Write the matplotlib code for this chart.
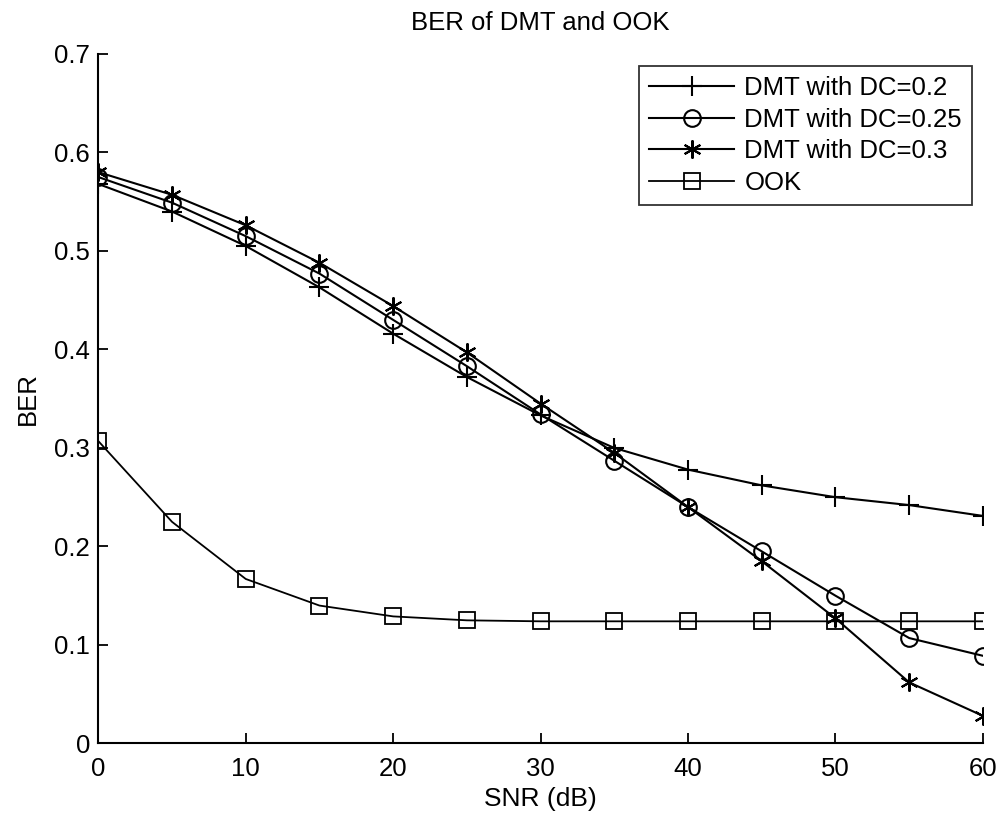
import numpy as np
import matplotlib
matplotlib.use('Agg')
import matplotlib.pyplot as plt

plt.rcParams['font.family'] = ['Liberation Sans', 'DejaVu Sans']

# SNR points (dB)
snr = [0, 5, 10, 15, 20, 25, 30, 35, 40, 45, 50, 55, 60]

# BER values
ber_dc02 = [0.568, 0.540, 0.505, 0.463, 0.416, 0.372, 0.333, 0.300, 0.278, 0.262, 0.250, 0.242, 0.231]
ber_dc025 = [0.575, 0.549, 0.515, 0.477, 0.430, 0.383, 0.334, 0.287, 0.240, 0.195, 0.150, 0.107, 0.089]
ber_dc03 = [0.580, 0.557, 0.526, 0.488, 0.444, 0.397, 0.345, 0.295, 0.240, 0.185, 0.127, 0.062, 0.028]
ber_ook = [0.307, 0.225, 0.167, 0.140, 0.129, 0.125, 0.124, 0.124, 0.124, 0.124, 0.124, 0.124, 0.124]

labels = ['DMT with DC=0.2', 'DMT with DC=0.25', 'DMT with DC=0.3', 'OOK']

fig = plt.figure(figsize=(10.03, 8.17), dpi=100)
ax = fig.add_axes([0.098, 0.09, 0.882, 0.844])

asterisk = (6, 2, 0)
ax.plot(snr, ber_dc02, color='k', lw=1.5, marker='+', ms=14, mew=1.5, label=labels[0])
ax.plot(snr, ber_dc025, color='k', lw=1.5, marker='o', ms=12, mfc='none', mew=1.5, label=labels[1])
ax.plot(snr, ber_dc03, color='k', lw=1.5, marker=asterisk, ms=13, mew=1.5, label=labels[2])
ax.plot(snr, ber_ook, color='k', lw=1.3, marker='s', ms=11, mfc='none', mew=1.3, label=labels[3])

ax.set_xlim(0, 60)
ax.set_ylim(0, 0.7)
ax.set_xticks(np.arange(0, 61, 10))
ax.set_yticks(np.arange(0, 0.71, 0.1))
ax.set_yticklabels(['0', '0.1', '0.2', '0.3', '0.4', '0.5', '0.6', '0.7'])
ax.tick_params(direction='in', length=7, width=1.3, labelsize=18.5)
ax.tick_params(axis='x', pad=10)
ax.tick_params(axis='y', pad=6)
for s in ['top', 'right']:
    ax.spines[s].set_visible(False)
for s in ['left', 'bottom']:
    ax.spines[s].set_linewidth(1.5)

ax.set_xlabel('SNR (dB)', fontsize=19, labelpad=4)
ax.set_ylabel('BER', fontsize=18.5, labelpad=10)
ax.set_title('BER of DMT and OOK', fontsize=18.5, pad=17)

leg = ax.legend(loc='upper right', bbox_to_anchor=(0.988, 0.983), fontsize=18.5,
                frameon=True, fancybox=False, edgecolor='k', handlelength=3.3,
                borderpad=0.4, labelspacing=0.3, handletextpad=0.4,
                borderaxespad=0)
leg.get_frame().set_linewidth(1.3)

plt.savefig('out.png', dpi=100)
